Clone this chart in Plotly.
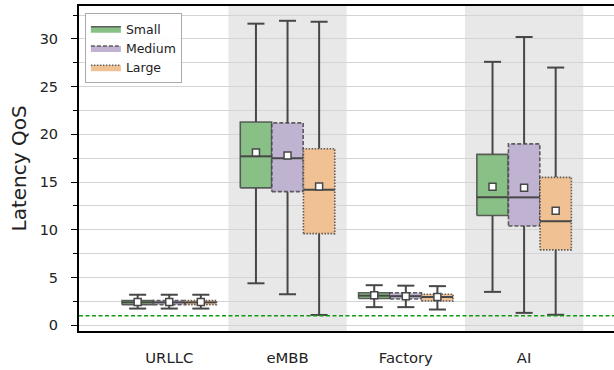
import plotly.graph_objects as go

categories = ["URLLC", "eMBB", "Factory", "AI"]
series = ["Small", "Medium", "Large"]

# stats per series, per category
lower = {"Small": [1.75, 4.4, 1.9, 3.5], "Medium": [1.75, 3.25, 1.9, 1.3], "Large": [1.75, 1.08, 1.65, 1.1]}
q1 = {"Small": [2.15, 14.4, 2.8, 11.5], "Medium": [2.15, 14.0, 2.75, 10.4], "Large": [2.15, 9.6, 2.55, 7.9]}
median = {"Small": [2.4, 17.7, 3.1, 13.4], "Medium": [2.4, 17.5, 3.05, 13.4], "Large": [2.4, 14.2, 2.95, 10.9]}
q3 = {"Small": [2.6, 21.3, 3.4, 17.9], "Medium": [2.6, 21.2, 3.4, 19.0], "Large": [2.6, 18.5, 3.25, 15.5]}
upper = {"Small": [3.2, 31.6, 4.2, 27.6], "Medium": [3.2, 31.9, 4.15, 30.2], "Large": [3.2, 31.8, 4.1, 27.0]}
mean = {"Small": [2.45, 18.1, 3.15, 14.5], "Medium": [2.45, 17.8, 3.05, 14.4], "Large": [2.45, 14.55, 2.95, 12.0]}
qos_threshold = 1.0
y_title = "Latency QoS"

fills = {"Small": "rgb(137,192,134)", "Medium": "rgb(192,179,210)", "Large": "rgb(240,193,146)"}
dashes = {"Small": "solid", "Medium": "4px,2px", "Large": "1.5px,1.5px"}
offsets = {"Small": -0.267, "Medium": 0.0, "Large": 0.267}
bw = 0.265
cap = 0.072
dark = "#474747"
edge = "rgba(70,70,70,0.85)"

fig = go.Figure()

for s in series:
    bx, by, wx, wy, cx, cy, mx, my, px, py = [], [], [], [], [], [], [], [], [], []
    for i in range(len(categories)):
        c = i + offsets[s]
        l, r = c - bw / 2, c + bw / 2
        bx += [l, r, r, l, l, None]
        by += [q1[s][i], q1[s][i], q3[s][i], q3[s][i], q1[s][i], None]
        wx += [c, c, None, c, c, None]
        wy += [q3[s][i], upper[s][i], None, q1[s][i], lower[s][i], None]
        cx += [c - cap, c + cap, None, c - cap, c + cap, None]
        cy += [upper[s][i], upper[s][i], None, lower[s][i], lower[s][i], None]
        mx += [l, r, None]
        my += [median[s][i], median[s][i], None]
        px.append(c)
        py.append(mean[s][i])
    fig.add_trace(go.Scatter(x=wx, y=wy, mode="lines", line=dict(color=dark, width=2),
                             showlegend=False, hoverinfo="skip"))
    fig.add_trace(go.Scatter(x=cx, y=cy, mode="lines", line=dict(color=dark, width=2),
                             showlegend=False, hoverinfo="skip"))
    fig.add_trace(go.Scatter(x=bx, y=by, mode="lines", fill="toself", fillcolor=fills[s],
                             line=dict(color=edge, width=1.6, dash=dashes[s]), name=s))
    fig.add_trace(go.Scatter(x=mx, y=my, mode="lines", line=dict(color=dark, width=2),
                             showlegend=False, hoverinfo="skip"))
    fig.add_trace(go.Scatter(x=px, y=py, mode="markers",
                             marker=dict(symbol="square", size=7, color="white",
                                         line=dict(color=dark, width=1.5)),
                             showlegend=False, hoverinfo="skip"))

fig.add_hline(y=qos_threshold, line=dict(color="#119911", width=1.4, dash="4px,2.5px"))

for i in (1, 3):
    fig.add_shape(type="rect", xref="x", yref="paper", x0=i - 0.5, x1=i + 0.5, y0=0, y1=1,
                  fillcolor="#e8e8e8", line=dict(width=0), layer="below")

fig.add_annotation(text=y_title, xref="paper", yref="paper", x=0, y=0.5, xanchor="center",
                   yanchor="middle", xshift=-61, textangle=-90, showarrow=False,
                   font=dict(size=20, color="#222"))

fig.update_layout(
    width=614, height=370,
    margin=dict(l=79, r=0, t=6, b=39),
    paper_bgcolor="white", plot_bgcolor="white",
    font=dict(family="DejaVu Sans", size=14, color="#222"),
    legend=dict(x=0.011, y=0.978, xanchor="left", yanchor="top",
                bgcolor="rgba(255,255,255,0.9)", bordercolor="#aaaaaa", borderwidth=1,
                font=dict(size=12.5), tracegroupgap=0, itemwidth=30),
)
fig.update_xaxes(range=[-0.763, 3.76], tickmode="array", tickvals=list(range(len(categories))),
                 ticktext=categories, showgrid=False, zeroline=False,
                 ticks="outside", ticklen=8, tickcolor="rgba(0,0,0,0)", ticklabelstandoff=4,
                 showline=True, linecolor="black", linewidth=2, mirror=True,
                 tickfont=dict(size=14.8))
fig.update_yaxes(range=[-0.6, 33.45], tickmode="linear", tick0=0, dtick=5,
                 ticks="outside", ticklen=6, tickwidth=1.2, tickcolor="black", ticklabelstandoff=10,
                 showgrid=True, gridcolor="#d4d4d4", gridwidth=1, zeroline=False,
                 minor=dict(dtick=2.5, ticks="outside", ticklen=4, tickcolor="black", showgrid=True,
                            gridcolor="#d4d4d4", gridwidth=1),
                 showline=True, linecolor="black", linewidth=2,
                 tickfont=dict(size=14.5))

fig.write_html("out.html", post_script="document.body.style.margin='0';",
               config={"displayModeBar": False})
